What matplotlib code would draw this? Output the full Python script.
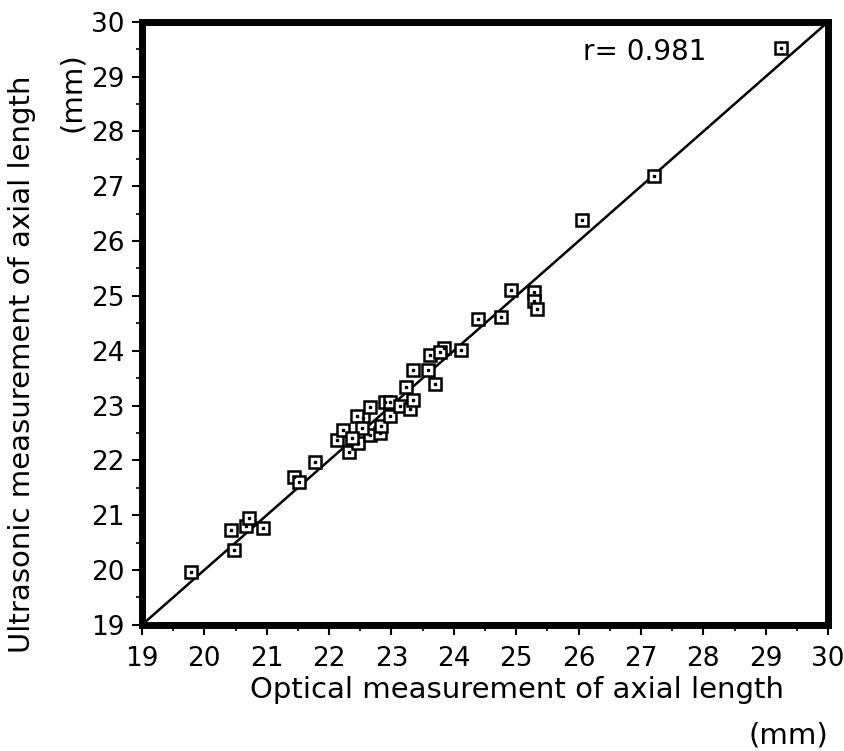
import matplotlib
matplotlib.use("Agg")
import matplotlib.pyplot as plt
from matplotlib.ticker import MultipleLocator

optical = [19.78, 20.48, 20.43, 20.67, 20.71, 20.94, 21.44, 21.51, 21.78,
           22.12, 22.22, 22.32, 22.46, 22.66, 22.82, 22.84, 22.54, 22.44,
           22.52, 22.36, 22.66, 22.97, 22.90, 22.98, 23.13, 23.30, 23.35,
           23.23, 23.35, 23.59, 23.69, 23.62, 23.84, 23.78, 24.11, 24.38,
           24.75, 24.91, 25.29, 25.29, 25.33, 26.06, 27.21, 29.25]
ultrasonic = [19.97, 20.36, 20.73, 20.80, 20.95, 20.77, 21.70, 21.61, 21.97,
              22.37, 22.55, 22.15, 22.32, 22.46, 22.49, 22.63, 22.77, 22.81,
              22.59, 22.40, 22.98, 22.81, 23.07, 23.07, 22.99, 22.94, 23.11,
              23.33, 23.64, 23.64, 23.39, 23.92, 24.05, 23.98, 24.01, 24.57,
              24.62, 25.11, 25.07, 24.90, 24.76, 26.39, 27.19, 29.52]
line_ends = [19, 30]
ticks = list(range(19, 31))

fig = plt.figure(figsize=(8.45, 7.51), dpi=100)
ax = fig.add_axes([0.168, 0.168, 0.812, 0.803])
ax.plot(line_ends, line_ends, color='black', lw=1.8, zorder=2)
ax.plot(optical, ultrasonic, linestyle='none', marker='s', markersize=8,
        markerfacecolor='white', markeredgecolor='black', markeredgewidth=1.8, zorder=3)
ax.plot(optical, ultrasonic, linestyle='none', marker='s', markersize=2.0,
        color='black', zorder=4)
ax.set_xlim(19, 30)
ax.set_ylim(19, 30)
ax.set_xticks(ticks)
ax.set_yticks(ticks)
ax.xaxis.set_minor_locator(MultipleLocator(0.5))
ax.yaxis.set_minor_locator(MultipleLocator(0.5))
for s in ax.spines.values():
    s.set_linewidth(5)
ax.tick_params(which='major', direction='out', length=7.5, width=1.5, labelsize=19)
ax.tick_params(axis='x', which='major', pad=8)
ax.tick_params(axis='y', which='major', pad=5)
ax.tick_params(which='minor', direction='out', length=4, width=1.2)
ax.text(0.643, 0.950, 'r= 0.981', transform=ax.transAxes, fontsize=20, ha='left', va='center')

fig.text(0.612, 0.081, 'Optical measurement of axial length', fontsize=21, ha='center', va='center')
fig.text(0.980, 0.021, '(mm)', fontsize=21, ha='right', va='center')
fig.text(0.026, 0.515, 'Ultrasonic measurement of axial length', fontsize=21, ha='center', va='center', rotation=90)
fig.text(0.085, 0.877, '(mm)', fontsize=21, ha='center', va='center', rotation=90)

fig.savefig('out.png', dpi=100)
